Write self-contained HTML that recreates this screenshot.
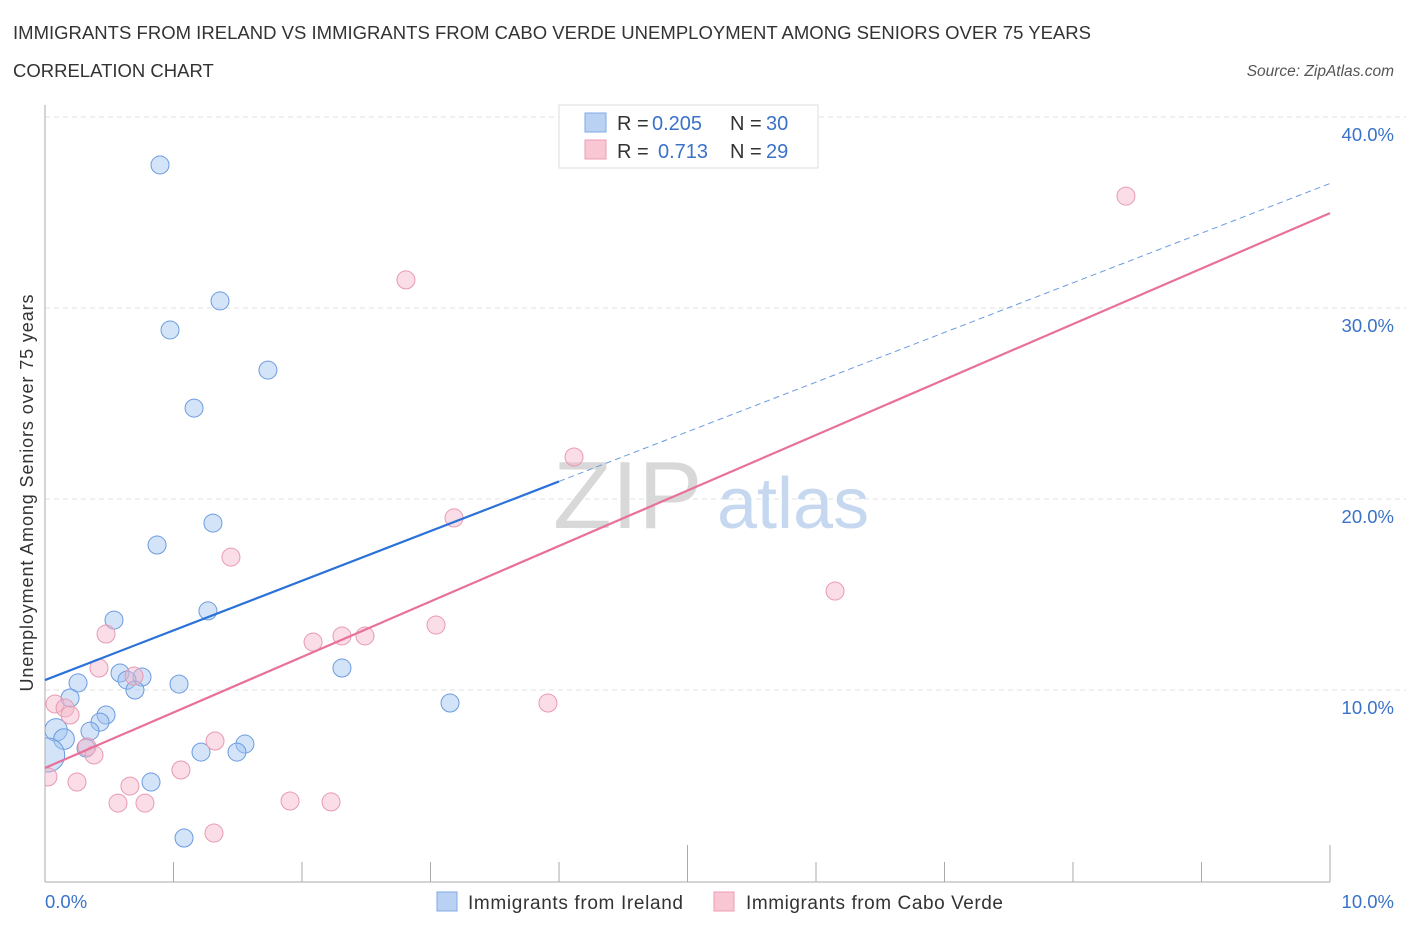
<!DOCTYPE html>
<html><head><meta charset="utf-8"><style>
body{margin:0;background:#fff;font-family:"Liberation Sans",sans-serif;}
svg text{font-family:"Liberation Sans",sans-serif;}
</style></head><body>
<svg id="chart" width="1406" height="930" viewBox="0 0 1406 930" xmlns="http://www.w3.org/2000/svg">
<defs><clipPath id="plotclip"><rect x="45" y="100" width="1361" height="782"/></clipPath></defs>
<text x="13" y="39" font-size="18.5" fill="#333" textLength="1078">IMMIGRANTS FROM IRELAND VS IMMIGRANTS FROM CABO VERDE UNEMPLOYMENT AMONG SENIORS OVER 75 YEARS</text>
<text x="13" y="77" font-size="18.5" fill="#333">CORRELATION CHART</text>
<text x="1394" y="76" font-size="15.5" fill="#555" text-anchor="end" font-style="italic">Source: ZipAtlas.com</text>
<g id="grid"></g>
<text x="553" y="528" font-size="96" fill="#d8d8d8" font-family="Liberation Serif">ZIP</text>
<text x="717" y="528" font-size="72" fill="#c5d8ef">atlas</text>
<line x1="45" y1="105" x2="45" y2="882" stroke="#aaa" stroke-width="1"/>
<line x1="45" y1="882" x2="1330" y2="882" stroke="#aaa" stroke-width="1"/>
<g id="ticks"></g>
<g id="points" clip-path="url(#plotclip)"></g>
<g id="lines"></g>
<text transform="translate(33,493) rotate(-90)" font-size="18" fill="#333" text-anchor="middle" textLength="397">Unemployment Among Seniors over 75 years</text>
<text x="45" y="908" font-size="18.5" fill="#3a72c8">0.0%</text>
<text x="1394" y="908" font-size="18.5" fill="#3a72c8" text-anchor="end">10.0%</text>
<g>
<rect x="559" y="105" width="259" height="63" fill="#fff" stroke="#ddd"/>
<rect x="585" y="113" width="21" height="19" fill="#b9d2f4" stroke="#7fa9e6"/>
<rect x="585" y="140" width="21" height="19" fill="#f9c6d4" stroke="#ec9cb4"/>
<text x="617" y="130" font-size="20" fill="#333">R = </text><text x="652" y="130" font-size="20" fill="#3a72c8">0.205</text>
<text x="730" y="130" font-size="20" fill="#333">N = </text><text x="766" y="130" font-size="20" fill="#3a72c8">30</text>
<text x="617" y="158" font-size="20" fill="#333">R = </text><text x="658" y="158" font-size="20" fill="#3a72c8">0.713</text>
<text x="730" y="158" font-size="20" fill="#333">N = </text><text x="766" y="158" font-size="20" fill="#3a72c8">29</text>
</g>
<g>
<rect x="437" y="892" width="20" height="19" fill="#b9d2f4" stroke="#7fa9e6"/>
<text x="468" y="909" font-size="19" fill="#333" textLength="215">Immigrants from Ireland</text>
<rect x="714" y="892" width="20" height="19" fill="#f9c6d4" stroke="#ec9cb4"/>
<text x="746" y="909" font-size="19" fill="#333" textLength="257">Immigrants from Cabo Verde</text>
</g>
</svg>
<script>
const yTicks=[10,20,30,40];
const yTickLabels=["10.0%","20.0%","30.0%","40.0%"];
const xTicks=[0,1,2,3,4,5,6,7,8,9,10];
const blueX=[0.895,1.362,0.973,1.735,1.160,1.307,0.872,1.268,0.537,2.311,0.584,0.755,0.638,0.257,1.043,0.700,0.195,3.152,0.475,0.428,0.086,0.350,0.148,1.556,0.319,1.214,1.494,0.825,1.082,0.02];
const blueY=[37.49,30.37,28.85,26.75,24.76,18.74,17.59,14.14,13.66,11.15,10.89,10.68,10.52,10.37,10.31,10.00,9.58,9.32,8.69,8.32,7.91,7.85,7.43,7.17,6.96,6.75,6.75,5.18,2.25,6.6];
const blueSize=[1,1,1,1,1,1,1,1,1,1,1,1,1,1,1,1,1,1,1,1,1.25,1,1.15,1,1,1,1,1,1,1.9];
const pinkX=[8.412,2.809,4.117,3.183,1.447,6.148,3.043,0.475,2.086,2.311,2.490,0.420,0.693,0.078,0.156,0.195,3.914,0.327,0.381,1.323,1.058,0.661,0.249,0.023,0.568,0.778,1.907,2.226,1.315];
const pinkY=[35.86,31.47,22.20,19.01,16.96,15.18,13.40,12.93,12.51,12.83,12.83,11.15,10.73,9.27,9.06,8.69,9.32,7.02,6.60,7.33,5.81,4.97,5.18,5.45,4.08,4.08,4.19,4.14,2.51];
const blueFit=[10.52,2.6];
const blueSolidEnd=4.0;
const pinkFit=[5.92,2.905];
const NS="http://www.w3.org/2000/svg";
const sx=v=>45+v*128.5, sy=v=>881-v*19.1;
function mk(t,a,p){const e=document.createElementNS(NS,t);for(const k in a)e.setAttribute(k,a[k]);p.appendChild(e);return e;}
const grid=document.getElementById('grid'),ticks=document.getElementById('ticks'),pts=document.getElementById('points'),lines=document.getElementById('lines');
yTicks.forEach((t,i)=>{
 const l=mk('line',{x1:45,x2:1406,y1:sy(t),y2:sy(t),stroke:'#e2e2e2','stroke-dasharray':'5,4'},grid);
 
 
 const tx=mk('text',{x:1394,y:sy(t)+24,'font-size':18.5,fill:'#3a72c8','text-anchor':'end'},grid);
 tx.textContent=yTickLabels[i];
 
 
});
xTicks.forEach(t=>{
 const tall=(t===5||t===10);
 const l=mk('line',{x1:sx(t),x2:sx(t),y1:tall?845:862,y2:882,stroke:'#aaa'},ticks);
 
 
});
blueX.forEach((x,i)=>{
 const c=mk('circle',{cx:sx(x),cy:sy(blueY[i]),r:9*blueSize[i],fill:'rgba(160,195,240,0.45)',stroke:'#6b9be0','stroke-width':1},pts);
 
 
});
pinkX.forEach((x,i)=>{
 const c=mk('circle',{cx:sx(x),cy:sy(pinkY[i]),r:9,fill:'rgba(245,180,200,0.45)',stroke:'#e89ab2','stroke-width':1},pts);
 
 
});
const bf=x=>blueFit[0]+blueFit[1]*x, pf=x=>pinkFit[0]+pinkFit[1]*x;
const b1=mk('line',{x1:sx(0),y1:sy(bf(0)),x2:sx(blueSolidEnd),y2:sy(bf(blueSolidEnd)),stroke:'#2a72d8','stroke-width':2.2},lines);


const b2=mk('line',{x1:sx(blueSolidEnd),y1:sy(bf(blueSolidEnd)),x2:sx(10),y2:sy(bf(10)),stroke:'#6b9be0','stroke-width':1,'stroke-dasharray':'6,4'},lines);


const p1=mk('line',{x1:sx(0),y1:sy(pf(0)),x2:sx(10),y2:sy(pf(10)),stroke:'#e8709a','stroke-width':2.2},lines);


</script>
</body></html>
